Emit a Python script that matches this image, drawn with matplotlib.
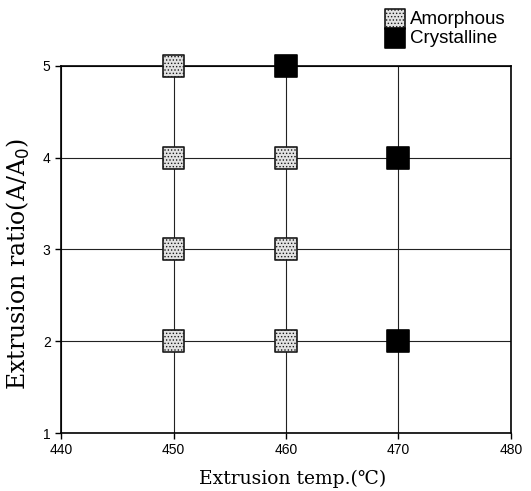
import matplotlib
matplotlib.use("Agg")
import matplotlib.pyplot as plt

# process conditions tested
amorph_temp = [450, 450, 450, 450, 460, 460, 460]
amorph_ratio = [5, 4, 3, 2, 4, 3, 2]
cryst_temp = [460, 470, 470]
cryst_ratio = [5, 4, 2]

x_ticks = [440, 450, 460, 470, 480]
y_ticks = [1, 2, 3, 4, 5]

plt.rcParams['hatch.color'] = '#8a8a8a'
plt.rcParams['hatch.linewidth'] = 0.6

serif = ['DejaVu Serif', 'Liberation Serif']

fig = plt.figure(figsize=(5.31, 4.91), dpi=100)
ax = fig.add_axes([0.115, 0.118, 0.847, 0.748])

ax.grid(True, color='#222222', lw=0.8, zorder=1)
ax.set_axisbelow(True)

ax.scatter(amorph_temp, amorph_ratio, marker='s', s=250, facecolor='#e2e2e2',
           edgecolor='#1a1a1a', linewidth=1.2, hatch='.....', zorder=3,
           clip_on=False, label='Amorphous')
ax.scatter(cryst_temp, cryst_ratio, marker='s', s=250, facecolor='black',
           edgecolor='black', linewidth=1.2, zorder=3, clip_on=False,
           label='Crystalline')

ax.set_xlim(440, 480)
ax.set_ylim(1, 5)
ax.set_xticks(x_ticks)
ax.set_yticks(y_ticks)
ax.tick_params(direction='out', length=4, width=1, labelsize=10)
for lab in ax.get_xticklabels() + ax.get_yticklabels():
    lab.set_family('Liberation Sans')
for sp in ax.spines.values():
    sp.set_linewidth(1.2)

ax.set_xlabel('Extrusion temp.(\u2103)', family=serif, fontsize=13.5)
ax.xaxis.set_label_coords(0.515, -0.1)
ax.set_ylabel('Extrusion ratio(A/A$_0$)', family=serif, fontsize=17)
ax.yaxis.set_label_coords(-0.065, 0.46)

leg = ax.legend(loc='lower right', bbox_to_anchor=(1.005, 1.03), frameon=False,
                prop={'family': 'Liberation Sans', 'size': 13.5},
                handletextpad=0.3, borderaxespad=0, labelspacing=0.1,
                markerscale=0.9, handlelength=1.0)

fig.savefig('out.png', dpi=100)
